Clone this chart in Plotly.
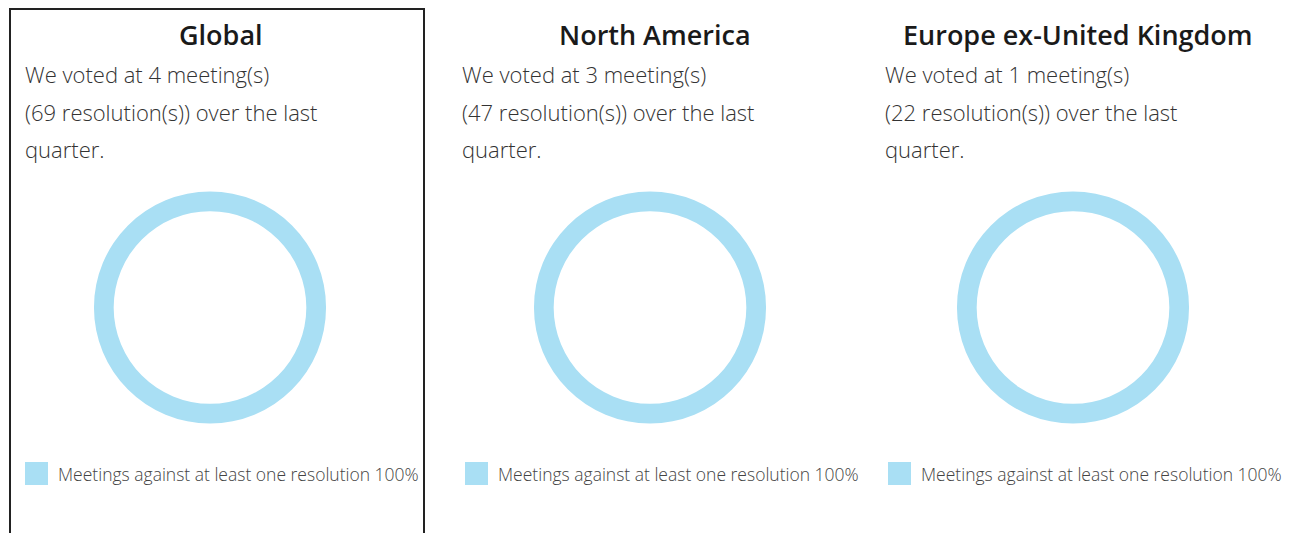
import plotly.graph_objects as go

regions = ["Global", "North America", "Europe ex-United Kingdom"]
meetings = [4, 3, 1]
resolutions = [69, 47, 22]
category = "Meetings against at least one resolution"
shares = [100, 100, 100]

W, H = 1296, 533
centers_x = [210, 650, 1073]
center_y = 307.5
radius = 116
text_x = [23, 460, 883]
legend_x = [25, 465, 888]
title_x = [221, 655, 1078]
color = "#A9DFF4"
FONT = "Open Sans"

fig = go.Figure()
annotations = []
shapes = []

for i, reg in enumerate(regions):
    cx = centers_x[i]
    fig.add_trace(go.Pie(
        labels=[category], values=[shares[i]],
        hole=0.83, sort=False, textinfo="none",
        marker=dict(colors=[color], line=dict(width=0)),
        domain=dict(x=[(cx - radius) / W, (cx + radius) / W],
                    y=[1 - (center_y + radius) / H, 1 - (center_y - radius) / H]),
        showlegend=False, hoverinfo="label+percent",
    ))
    annotations.append(dict(
        x=title_x[i] / W, y=1 - 35 / H, xref="paper", yref="paper",
        xanchor="center", yanchor="middle", showarrow=False,
        text=reg, font=dict(family=FONT, size=27, color="#1a1a1a", weight=600),
    ))
    lines = [f"We voted at {meetings[i]} meeting(s)",
             f"({resolutions[i]} resolution(s)) over the last",
             "quarter."]
    for j, ln in enumerate(lines):
        annotations.append(dict(
            x=text_x[i] / W, y=1 - (74 + 37.5 * j) / H, xref="paper", yref="paper",
            xanchor="left", yanchor="middle", showarrow=False,
            text=ln, font=dict(family=FONT, size=22, color="#333333", weight=300),
        ))
    lx = legend_x[i]
    shapes.append(dict(type="rect", xref="paper", yref="paper",
                       x0=lx / W, x1=(lx + 23) / W,
                       y0=1 - 485 / H, y1=1 - 462 / H,
                       fillcolor=color, line=dict(width=0)))
    annotations.append(dict(
        x=(lx + 31) / W, y=1 - 474 / H, xref="paper", yref="paper",
        xanchor="left", yanchor="middle", showarrow=False,
        text=f"{category} {shares[i]}%",
        font=dict(family=FONT, size=17.5, color="#444444", weight=300),
    ))

shapes.append(dict(type="rect", xref="paper", yref="paper",
                   x0=10 / W, x1=424 / W, y0=-0.05, y1=1 - 9 / H,
                   line=dict(color="#222222", width=2), fillcolor="rgba(0,0,0,0)"))

fig.update_layout(
    width=W, height=H, margin=dict(l=0, r=0, t=0, b=0),
    paper_bgcolor="white", plot_bgcolor="white",
    annotations=annotations, shapes=shapes, showlegend=False,
)
fig.write_html("out.html", config={"displayModeBar": False},
               post_script="document.body.style.margin='0';")
